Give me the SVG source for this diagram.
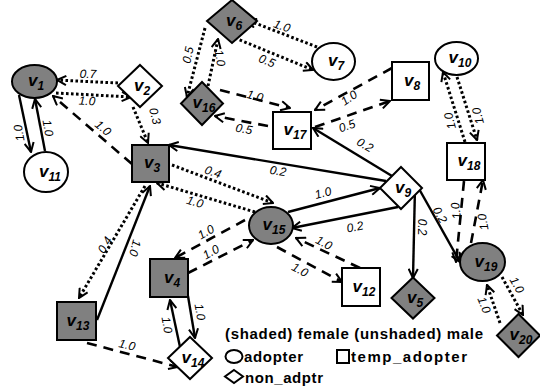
<svg xmlns="http://www.w3.org/2000/svg" width="540" height="389" viewBox="0 0 540 389">
<defs>
<marker id="ah" viewBox="0 0 12 12" refX="11" refY="6" markerWidth="11" markerHeight="11" markerUnits="userSpaceOnUse" orient="auto">
<path d="M1,1 L11,6 L1,11" fill="none" stroke="#000" stroke-width="2.2"/>
</marker>
</defs>
<style>
.s{fill:none;stroke:#000;stroke-width:2.4;marker-end:url(#ah)}
.d{fill:none;stroke:#000;stroke-width:2.6;stroke-dasharray:10 7;marker-end:url(#ah)}
.o{fill:none;stroke:#000;stroke-width:3;stroke-dasharray:2.6 2.4;marker-end:url(#ah)}
.f{fill:#808080;stroke:#000;stroke-width:2}
.w{fill:#fff;stroke:#000;stroke-width:2}
.nl{font-family:"Liberation Sans",Arial,sans-serif;font-weight:bold;font-style:italic;font-size:17px;text-anchor:middle;fill:#000}
.sb{font-size:12px}
.el{font-family:"Liberation Sans",Arial,sans-serif;font-style:italic;font-size:12px;text-anchor:middle;fill:#000}
.lg{font-family:"Liberation Sans",Arial,sans-serif;font-weight:bold;font-size:15px;fill:#000}
</style>
<rect width="540" height="389" fill="#fff"/>
<g id="connectors">
<path class="o" d="M118,83 L57,80"/>
<text class="el" x="88" y="78" transform="rotate(2 88 74)">0.7</text>
<path class="o" d="M56,93 L131,97"/>
<text class="el" x="87" y="105" transform="rotate(3 87 101)">1.0</text>
<path class="d" d="M132,164 L53,96"/>
<text class="el" x="103" y="132" transform="rotate(40 103 128)">1.0</text>
<path class="o" d="M133,107 L148,143"/>
<text class="el" x="155" y="120" transform="rotate(75 155 116)">0.3</text>
<path class="s" d="M19,95 L31,152"/>
<text class="el" x="19" y="137" transform="rotate(-100 19 133)">1.0</text>
<path class="s" d="M45,151 L35,99"/>
<text class="el" x="48" y="132" transform="rotate(80 48 128)">1.0</text>
<path class="o" d="M317,47 L247,20"/>
<text class="el" x="282" y="30" transform="rotate(20 282 26)">1.0</text>
<path class="o" d="M235,38 L313,70"/>
<text class="el" x="267" y="65" transform="rotate(22 267 61)">0.5</text>
<path class="o" d="M205,28 L187,97"/>
<text class="el" x="188" y="59" transform="rotate(-78 188 55)">0.5</text>
<path class="o" d="M208,86 L218,39"/>
<text class="el" x="220" y="62" transform="rotate(80 220 58)">1.0</text>
<path class="d" d="M220,90 L290,108"/>
<text class="el" x="255" y="100" transform="rotate(15 255 96)">1.0</text>
<path class="d" d="M268,126 L215,116"/>
<text class="el" x="244" y="133" transform="rotate(10 244 129)">0.5</text>
<path class="d" d="M392,68 L315,110"/>
<text class="el" x="349" y="102" transform="rotate(-35 349 98)">1.0</text>
<path class="d" d="M315,127 L390,101"/>
<text class="el" x="347" y="130" transform="rotate(-20 347 126)">0.5</text>
<path class="s" d="M392,176 L313,128"/>
<text class="el" x="365" y="149" transform="rotate(30 365 145)">0.2</text>
<path class="s" d="M386,181 L169,145"/>
<text class="el" x="278" y="175" transform="rotate(9 278 171)">0.2</text>
<path class="o" d="M172,165 L273,203"/>
<text class="el" x="213" y="176" transform="rotate(20 213 172)">0.4</text>
<path class="o" d="M255,212 L157,183"/>
<text class="el" x="195" y="206" transform="rotate(17 195 202)">1.0</text>
<path class="s" d="M288,212 L380,188"/>
<text class="el" x="323" y="197" transform="rotate(-15 323 193)">1.0</text>
<path class="s" d="M398,207 L292,228"/>
<text class="el" x="355" y="231" transform="rotate(-11 355 227)">0.2</text>
<path class="d" d="M277,247 L342,282"/>
<text class="el" x="300" y="274" transform="rotate(28 300 270)">1.0</text>
<path class="d" d="M360,268 L296,238"/>
<text class="el" x="324" y="247" transform="rotate(28 324 243)">1.0</text>
<path class="s" d="M415,187 L413,278"/>
<text class="el" x="422" y="231" transform="rotate(90 422 227)">0.2</text>
<path class="s" d="M418,187 L460,262"/>
<text class="el" x="440" y="219" transform="rotate(60 440 215)">0.2</text>
<path class="d" d="M464,181 L456,262"/>
<text class="el" x="456" y="215" transform="rotate(-97 456 211)">1.0</text>
<path class="d" d="M471,243 L483,180"/>
<text class="el" x="483" y="226" transform="rotate(-100 483 222)">1.0</text>
<path class="o" d="M465,142 L443,72"/>
<text class="el" x="450" y="125" transform="rotate(-105 450 121)">1.0</text>
<path class="o" d="M457,77 L477,140"/>
<text class="el" x="478" y="120" transform="rotate(-105 478 116)">1.0</text>
<path class="o" d="M502,277 L523,315"/>
<text class="el" x="517" y="289" transform="rotate(60 517 285)">1.0</text>
<path class="o" d="M500,323 L487,285"/>
<text class="el" x="484" y="309" transform="rotate(68 484 305)">1.0</text>
<path class="d" d="M245,220 L175,258"/>
<text class="el" x="206" y="236" transform="rotate(-30 206 232)">1.0</text>
<path class="d" d="M188,273 L253,240"/>
<text class="el" x="211" y="256" transform="rotate(-30 211 252)">1.0</text>
<path class="s" d="M97,320 L150,186"/>
<text class="el" x="135" y="252" transform="rotate(105 135 248)">1.0</text>
<path class="o" d="M145,186 L79,298"/>
<text class="el" x="105" y="249" transform="rotate(-60 105 245)">0.4</text>
<path class="s" d="M188,296 L195,338"/>
<text class="el" x="200" y="316" transform="rotate(80 200 312)">1.0</text>
<path class="s" d="M180,347 L170,300"/>
<text class="el" x="167" y="329" transform="rotate(80 167 325)">1.0</text>
<path class="d" d="M87,343 L178,367"/>
<text class="el" x="127" y="349" transform="rotate(13 127 345)">1.0</text>
</g>
<g id="v1"><ellipse class="f" cx="34.5" cy="81.5" rx="22.5" ry="16.5"/><text class="nl" x="36" y="86">v<tspan class="sb" dy="4">1</tspan></text></g>
<g id="v2"><polygon class="w" points="140,65 162,86 140,107 118,86"/><text class="nl" x="142" y="91">v<tspan class="sb" dy="4">2</tspan></text></g>
<g id="v3"><rect class="f" x="132" y="145" width="37" height="37"/><text class="nl" x="152" y="168">v<tspan class="sb" dy="4">3</tspan></text></g>
<g id="v4"><rect class="f" x="150" y="259" width="38" height="38"/><text class="nl" x="172" y="283">v<tspan class="sb" dy="4">4</tspan></text></g>
<g id="v5"><polygon class="f" points="413,277.5 434.5,298 413,318.5 391.5,298"/><text class="nl" x="415" y="303">v<tspan class="sb" dy="4">5</tspan></text></g>
<g id="v6"><polygon class="f" points="232,0 257,21 232,43 207,21"/><text class="nl" x="234" y="26">v<tspan class="sb" dy="4">6</tspan></text></g>
<g id="v7"><ellipse class="w" cx="333.5" cy="61.5" rx="21.5" ry="18.5"/><text class="nl" x="336" y="66">v<tspan class="sb" dy="4">7</tspan></text></g>
<g id="v8"><rect class="w" x="392" y="62" width="37" height="38"/><text class="nl" x="412" y="86">v<tspan class="sb" dy="4">8</tspan></text></g>
<g id="v9"><polygon class="w" points="401,167 422,188 401,209 380,188"/><text class="nl" x="403" y="193">v<tspan class="sb" dy="4">9</tspan></text></g>
<g id="v10"><ellipse class="w" cx="456.5" cy="58.5" rx="21.5" ry="16.5"/><text class="nl" x="460" y="63">v<tspan class="sb" dy="4">10</tspan></text></g>
<g id="v11"><ellipse class="w" cx="46" cy="172" rx="22" ry="20"/><text class="nl" x="50" y="177">v<tspan class="sb" dy="4">11</tspan></text></g>
<g id="v12"><rect class="w" x="342" y="268" width="38" height="38"/><text class="nl" x="364" y="292">v<tspan class="sb" dy="4">12</tspan></text></g>
<g id="v13"><rect class="f" x="57" y="302" width="39" height="38"/><text class="nl" x="78" y="326">v<tspan class="sb" dy="4">13</tspan></text></g>
<g id="v14"><polygon class="w" points="190,337 212,358 190,379 168,358"/><text class="nl" x="193" y="363">v<tspan class="sb" dy="4">14</tspan></text></g>
<g id="v15"><ellipse class="f" cx="271" cy="225.5" rx="22" ry="18.5"/><text class="nl" x="274" y="230">v<tspan class="sb" dy="4">15</tspan></text></g>
<g id="v16"><polygon class="f" points="202,82 223,103.5 202,125 181,103.5"/><text class="nl" x="204" y="108">v<tspan class="sb" dy="4">16</tspan></text></g>
<g id="v17"><rect class="w" x="273" y="112" width="38" height="37"/><text class="nl" x="295" y="135">v<tspan class="sb" dy="4">17</tspan></text></g>
<g id="v18"><rect class="w" x="447" y="143" width="38" height="37"/><text class="nl" x="469" y="166">v<tspan class="sb" dy="4">18</tspan></text></g>
<g id="v19"><ellipse class="f" cx="482.5" cy="262" rx="22.5" ry="19"/><text class="nl" x="486" y="267">v<tspan class="sb" dy="4">19</tspan></text></g>
<g id="v20"><polygon class="f" points="518.5,314 540,335.5 518.5,357 497,335.5"/><text class="nl" x="521" y="340">v<tspan class="sb" dy="4">20</tspan></text></g>
<g id="legend">
<text class="lg" x="225" y="339" textLength="258">(shaded) female (unshaded) male</text>
<ellipse cx="234" cy="356.5" rx="8.5" ry="6.5" fill="none" stroke="#000" stroke-width="2"/>
<text class="lg" x="244" y="362" textLength="59">adopter</text>
<rect x="337" y="350" width="12" height="13" fill="none" stroke="#000" stroke-width="2"/>
<text class="lg" x="351" y="362" textLength="116">temp_adopter</text>
<polygon points="234,370 243,376.5 234,383 225,376.5" fill="none" stroke="#000" stroke-width="2"/>
<text class="lg" x="245" y="383" textLength="78">non_adptr</text>
</g>
</svg>
